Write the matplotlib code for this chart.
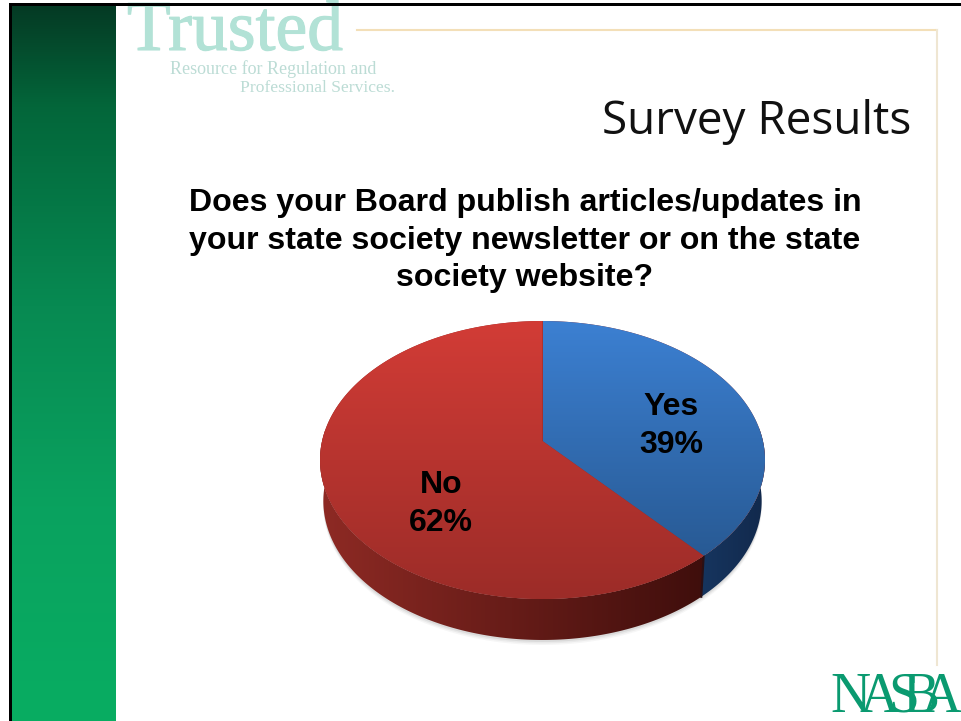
import matplotlib
matplotlib.use("Agg")
import matplotlib.pyplot as plt
import matplotlib.patheffects as pe
import numpy as np
from matplotlib.colors import LinearSegmentedColormap
from matplotlib.patches import Polygon, Rectangle

# Survey answers
CATEGORIES = ["Yes", "No"]
VALUES = [39, 62]

TITLE = "Survey Results"
QUESTION = [
    "Does your Board publish articles/updates in",
    "your state society newsletter or on the state",
    "society website?",
]

W, H = 961, 721

# Pie geometry in pixels. The disc is seen in perspective, so its
# centre sits above the middle of the outline.
CX = 542.5
RX = 220.4
CENTRE_Y = 441.0
PERSP_A = -76.1
PERSP_C = 0.1367
DEPTH = 41.0
BASE_SCALE = 0.985


def project(theta):
    """Map angles (clockwise from 12 o'clock) on the unit disc to the page."""
    u = np.sin(theta)
    v = np.cos(theta)
    d = 1 + PERSP_C * v
    return CX + RX * u / d, (CENTRE_Y + PERSP_A * v) / d


def gradient_fill(ax, verts, colours, horizontal=False, zorder=2):
    """Fill a polygon with a linear gradient running across its bounding box."""
    verts = np.asarray(verts)
    x0, y0 = verts.min(axis=0)
    x1, y1 = verts.max(axis=0)
    ramp = np.linspace(0, 1, 256)
    ramp = ramp[None, :] if horizontal else ramp[:, None]
    cmap = LinearSegmentedColormap.from_list("ramp", colours)
    im = ax.imshow(ramp, cmap=cmap, extent=(x0, x1, y1, y0), aspect="auto",
                   interpolation="bilinear", zorder=zorder)
    clip = Polygon(verts, closed=True, transform=ax.transData, fc="none", ec="none")
    ax.add_patch(clip)
    im.set_clip_path(clip)


fig = plt.figure(figsize=(W / 100, H / 100), dpi=100, facecolor="white")
ax = fig.add_axes([0, 0, 1, 1])

# Green band and slide border
gradient_fill(ax, [(12, 5), (116, 5), (116, 721), (12, 721)],
              [(0, "#053a24"), (0.14, "#03663a"), (0.42, "#078a52"),
               (0.7, "#0aa25f"), (1, "#08ad62")], zorder=1)
ax.add_patch(Rectangle((9, 3), 3, 718, fc="black", ec="none", zorder=6))
ax.add_patch(Rectangle((9, 3), 952, 3, fc="black", ec="none", zorder=6))

# Thin gold rule round the content
ax.plot([357, 937], [30, 30], color="#f3dfb8", lw=1.5, zorder=1)
ax.plot([937, 937], [30, 665], color="#efe6d2", lw=1.5, zorder=1)

# Logo wording at the top
ax.text(127, 50, "Trusted", family="Liberation Serif", fontsize=51.5, color="#b2e2d6",
        ha="left", va="baseline", zorder=2,
        path_effects=[pe.withStroke(linewidth=0.8, foreground="#b2e2d6")])
ax.text(170, 74, "Resource for Regulation and", family="Liberation Serif", fontsize=13,
        color="#bcdcd5", ha="left", va="baseline")
ax.text(240, 92, "Professional Services.", family="Liberation Serif", fontsize=12.6,
        color="#bcdcd5", ha="left", va="baseline")

# NASBA mark, letters set tight so that they overlap
for letter, lx in zip("NASBA", [830, 859, 888, 902, 921]):
    ax.text(lx, 712, letter, family="Liberation Serif", fontsize=40, color="#0a9a70",
            ha="left", va="baseline")

# Headings
ax.text(911, 134, TITLE, family="Open Sans", fontsize=33, color="#111111",
        ha="right", va="baseline")
for line, y in zip(QUESTION, [203, 241, 278]):
    ax.text(525, y, line, family="Liberation Sans", fontweight="bold", fontsize=23.1,
            color="black", ha="center", va="center")

# Slice angles come straight from the answers
fractions = np.array(VALUES) / sum(VALUES)
edges = np.concatenate([[0], np.cumsum(fractions)]) * 2 * np.pi

full = np.linspace(0, 2 * np.pi, 720)
rim_x, rim_y = project(full)

# Soft shadow under the base
for grow, alpha in [(5, 0.05), (3.5, 0.07), (2, 0.10)]:
    ax.fill(CX + (rim_x - CX) * BASE_SCALE, rim_y + DEPTH + grow, color="#555555",
            alpha=alpha, lw=0, zorder=1.5)

top_colours = {"Yes": ["#3c80d2", "#285a94"], "No": ["#d23c36", "#9c2c28"]}
wall_colours = {"Yes": ["#16355f", "#12294c"], "No": ["#8e2a24", "#3f0e0c"]}

for name, start, stop in zip(CATEGORIES, edges[:-1], edges[1:]):
    theta = np.linspace(start, stop, 300)
    px, py = project(theta)

    # Side wall: only the part of the rim facing the viewer
    front = (np.cos(theta) < 0.1)
    if front.any():
        fx, fy = px[front], py[front]
        bx = CX + (fx - CX) * BASE_SCALE
        by = fy + DEPTH
        wall = np.vstack([np.column_stack([fx, fy]),
                          np.column_stack([bx, by])[::-1]])
        gradient_fill(ax, wall, wall_colours[name], horizontal=True, zorder=2)

# Dark line closing the joint between the two walls
seam_x, seam_y = project(edges[1])
ax.plot([seam_x, CX + (seam_x - CX) * BASE_SCALE], [seam_y, seam_y + DEPTH],
        color="#2a1015", lw=1.5, zorder=2.2)

# Backing for the disc face
ax.fill(rim_x, rim_y, color="#8f2a28", lw=0, zorder=2.5)

for name, start, stop in zip(CATEGORIES, edges[:-1], edges[1:]):
    theta = np.linspace(start, stop, 300)
    px, py = project(theta)
    face = np.vstack([[CX, CENTRE_Y], np.column_stack([px, py])])
    gradient_fill(ax, face, top_colours[name], zorder=3)

# Slice labels
label_pos = {"Yes": (671, 426), "No": (441, 504)}
for name, value in zip(CATEGORIES, VALUES):
    lx, ly = label_pos[name]
    ax.text(lx, ly - 19, name, family="Liberation Sans", fontweight="bold", fontsize=23,
            color="black", ha="center", va="center", zorder=5)
    ax.text(lx, ly + 19, f"{value}%", family="Liberation Sans", fontweight="bold", fontsize=23,
            color="black", ha="center", va="center", zorder=5)

ax.set_xlim(0, W)
ax.set_ylim(H, 0)
ax.axis("off")

fig.savefig("out.png", dpi=100)
